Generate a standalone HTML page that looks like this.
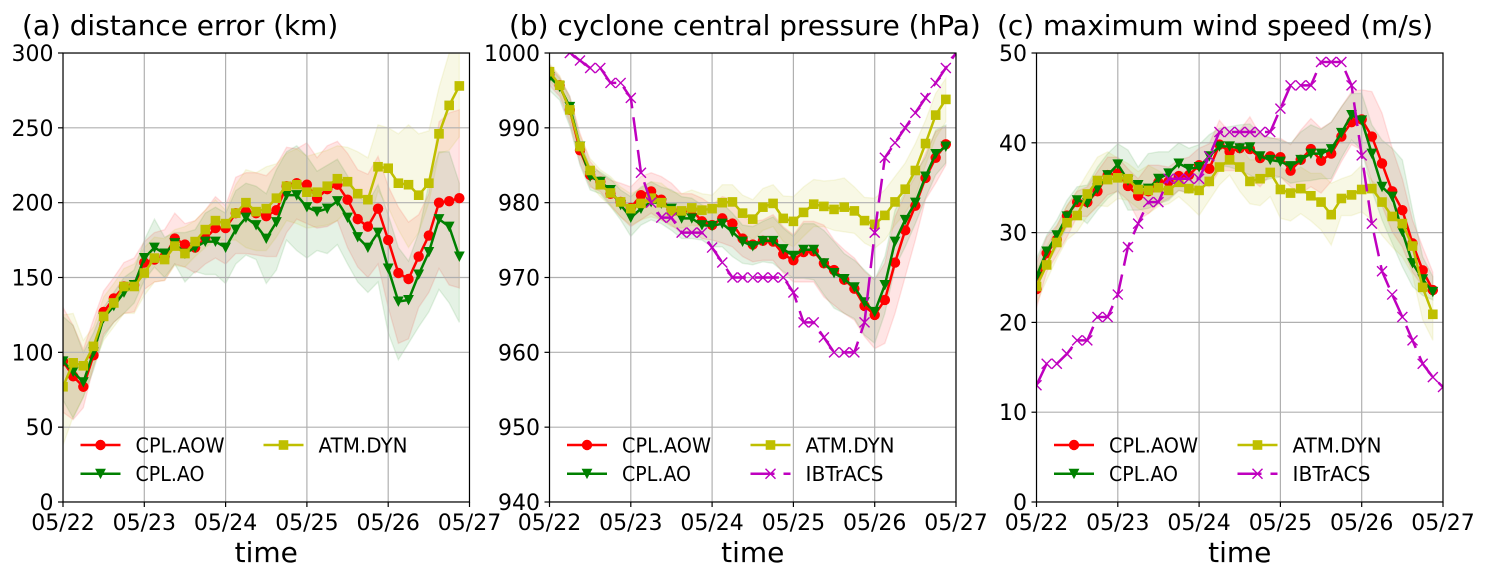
<!DOCTYPE html>
<html>
<head>
<meta charset="utf-8">
<title>Cyclone forecast comparison</title>
<style>
html,body{margin:0;padding:0;background:#fff;}
svg{display:block;font-family:"DejaVu Sans","Liberation Sans",sans-serif;}
</style>
</head>
<body>
<svg id="chart" width="1486" height="575" viewBox="0 0 1486 575" xmlns="http://www.w3.org/2000/svg"></svg>
<script>
const dayLabels = ['05/22','05/23','05/24','05/25','05/26','05/27'];
const stepsPerDay = 8;
const ticksA = [0,50,100,150,200,250,300];
const ticksB = [940,950,960,970,980,990,1000];
const ticksC = [0,10,20,30,40,50];

const aAow = [94,84,77,98,127,136,144,145,160,162,164,176,172,170,176,183,183,193,194,193,191,195,211,213,212,203,209,212,202,189,184,196,175,153,149,164,178,200,201,203];
const aAo = [94,87,80,100,123,131,140,145,163,170,166,173,166,170,174,174,170,182,190,185,176,187,205,205,197,194,196,201,190,177,170,180,156,134,135,152,167,189,184,164];
const aDyn = [77,93,91,104,124,133,144,144,153,163,162,171,166,174,182,188,186,193,200,194,196,203,211,212,207,207,211,216,214,206,202,224,223,213,212,205,213,246,265,278];
const aAowHi = [130,118,102,122,141,150,160,163,174,180,182,193,186,188,195,204,198,217,220,220,218,225,237,236,240,230,238,241,233,222,219,231,211,197,187,192,206,254,260,262];
const aAowLo = [60,55,63,90,112,120,126,127,142,147,148,159,157,153,159,163,159,166,166,165,164,164,180,189,186,183,184,188,170,157,150,159,130,106,109,130,140,156,145,143];
const aAoHi = [124,118,100,113,130,140,150,155,175,189,177,180,180,182,193,197,193,208,213,211,206,222,234,238,231,221,225,229,218,204,200,212,192,170,161,180,213,234,234,213];
const aAoLo = [68,56,70,88,110,120,126,133,148,157,150,159,147,154,152,152,146,159,165,162,146,155,175,168,163,168,166,172,159,147,140,147,113,95,106,117,127,142,133,120];
const aDynHi = [125,126,108,117,137,146,156,159,170,177,176,182,184,188,195,202,195,212,222,220,224,226,233,236,231,233,235,238,237,234,230,252,250,246,252,246,248,277,300,308];
const aDynLo = [38,57,70,91,108,117,126,126,138,147,148,158,157,164,170,175,175,175,170,168,168,177,188,186,183,184,185,188,195,188,183,208,197,182,170,180,200,233,235,244];

const bAow = [997.1,995.7,992.4,987,983.7,982.8,981.2,980.1,979.3,981,981.5,980.4,979.1,978.7,979.1,977.5,977,977.9,977.2,975.2,974.4,974.9,974.8,973.1,972.3,973.4,973.5,971.9,971,969.7,968.5,966.2,965,967,972,976.3,979.6,983.3,986,987.8];
const bAo = [996.8,995.5,992.8,987.5,983.5,982.8,981.7,979.7,978,979.2,980.1,979.9,979.2,977.9,977.9,977,976.9,977.2,976.1,974.8,974.2,974.9,974.9,973.8,972.9,973.7,973.7,971.9,970.6,969.8,968.7,966.7,965.4,969,974.8,977.7,980,983.5,986.5,987.5];
const bDyn = [997.5,995.7,992.4,987.5,984.3,982.4,981.3,980.1,979.2,979.9,980.6,980,978.9,978.9,979.3,979,979.2,980,980.1,978.6,977.8,979.4,979.9,977.9,977.5,978.7,979.8,979.5,979.1,979.4,978.9,977.6,977.1,978.3,980.1,981.8,984.3,987.9,991.7,993.8];
const bObs = [1003,1001,1000,999,998,998,996,996,994,984,980,978,978,976,976,976,974,972,970,970,970,970,970,970,968,964,964,962,960,960,960,964,976,986,988,990,992,994,996,998,1000];
const bAowHi = [998.4,996.8,994.2,989.3,985.5,983.9,983,982.6,982.1,983.5,984,983.5,982.6,981.2,981.2,980.6,979.7,980.8,980.4,978.1,977.5,977.7,978.4,976.8,975.7,977.5,977.5,977,975,973.7,972.6,970.8,969.7,971.9,978.1,981.2,983.5,986.6,989.5,990.2];
const bAowLo = [995.7,994.2,990.6,985.3,982.1,981.5,979.7,978.1,976.8,977.7,978.6,977.7,977,975.9,976.3,975.2,975,974.6,974.1,972.8,972.1,972.3,972.3,970.6,969.4,969.4,969.4,967.4,966.3,965.2,964.3,962.1,960.5,961.2,965.2,970.1,975,980.4,982.6,985];
const bAoHi = [998.2,996.6,994.2,988.4,984.8,984.1,983.2,981.7,980.8,982.1,982.8,982.1,981.7,980.8,980.6,979.7,979.2,979.9,978.6,977,976.8,977.5,978.1,976.6,975.5,977.2,977.2,976.3,974.8,973.2,972.3,971,969.7,972.8,979,981.5,983.9,986.1,989.7,990.4];
const bAoLo = [995,993.7,990.2,985,981.7,981.2,979.5,977.7,975.5,977,977.7,977.2,976.3,975.2,975.2,975,974.1,974.1,972.8,971.9,971.7,972.1,971.9,970.8,969.9,969.9,969.7,967.7,965.9,965.2,964.5,962.3,961.2,965.2,971.4,974.1,977.2,980.6,983.7,985.3];
const bDynHi = [998.6,997,993.7,989,985.9,984.4,983.5,982.1,981.2,981.9,982.8,982.6,981.5,981.2,981.7,981.2,981,982.4,982.4,981,980.4,981.9,982.4,980.9,980.8,982.1,983.1,982.9,983,983.3,982.1,980.7,980.6,981.7,983.5,985.3,987.9,991,994.6,996.6];
const bDynLo = [996.4,994.6,991,986.1,982.4,980.8,979.5,978.1,977,977.7,978.1,977.7,976.8,976.6,977,976.8,977.2,977.7,977.9,976.1,975,976.3,976.8,974.8,974.1,975.5,976.8,976.8,976.3,976.1,975.9,974.6,973.9,975,977,978.6,980.8,985,988.6,990.8];

const cAow = [23.7,27.7,29.2,31.9,33.4,33.4,34.6,36.4,36.6,35.2,34.1,34.6,35.6,35.7,36.3,36.4,37.5,37.1,39.8,39,39.4,39.3,38.3,38.5,38.4,36.9,38.1,39.3,38,38.8,40.7,42.3,42.6,40.7,37.7,34.6,32.5,28.8,25.8,23.6];
const cAo = [25.1,27.9,29.7,31.8,33.6,33.3,34.9,36.4,37.6,35.8,35.3,34.9,36,36.6,37.7,37.1,37.3,38.5,39.6,39.6,39.4,39.5,38.5,38.1,37.9,37.4,38.1,38.8,38.8,39.3,41.1,43.1,42.5,38.8,35.1,34,30.1,26.6,24.8,23.4];
const cDyn = [24,26.4,28.9,31.1,31.9,34.3,35.8,35.9,36.1,36,34.8,34.7,35,34.7,35.6,34.9,34.7,35.7,37.3,38.1,37.3,35.7,36,36.7,34.8,34.4,34.9,34.1,33.4,32,33.8,34.2,34.8,34.9,33.4,31.8,31,28.5,23.9,20.9];
const cObs = [13,15.4,15.4,16.5,18,18,20.6,20.6,23.1,28.4,31,33.4,33.4,36,36,36,36,38.5,41.2,41.2,41.2,41.2,41.2,41.2,43.8,46.4,46.4,46.4,49,49,49,46.4,38.6,31,25.7,23.1,20.6,18,15.4,13.9,12.8];
const cAowHi = [26.6,29.5,30.8,33,34.6,35.1,36.8,38.4,38.4,37.1,36,37.5,37.5,37.3,38.1,38.4,39.4,39.9,42.5,41.2,41.4,42.9,40.9,40.5,40.5,39.8,41.4,42.7,41.6,42.3,44,45.7,45.9,45.7,43.3,39.4,36,31.4,28.4,25.6];
const cAowLo = [21.6,25.6,27.5,29.5,31.8,31.8,32.9,34.2,34.6,33.6,31.4,32.1,33.2,33.8,34.7,34.4,35.5,35.1,36.9,36.9,36.9,36,35.1,36.4,36.2,35.1,34.4,35.1,34.4,35.7,37.9,39.8,39.2,35.7,33,30.1,28.4,25.6,24,23];
const cAoHi = [27.1,29.7,31.4,33.6,35.1,35.3,37.3,38.8,39.9,39.2,37.3,38.8,39,39,40,39.4,39.8,40.9,41.6,41.8,42,42.1,41,40.6,40.3,39.9,41.2,42,41.5,42.3,44,45.5,45.5,42,40.3,39.4,38.1,32.5,27.3,25.1];
const cAoLo = [23.6,26.4,28.4,30.7,31.9,31,32.5,33.8,34.7,32.5,32.5,32.7,33.2,33.6,34.7,34.4,34.7,35.7,37.5,37.3,36.9,36.4,35.7,36,36.2,35.5,35.7,35.8,36,36,38.3,40.3,39.2,34.7,31.4,28.8,26.2,24,23,22.5];
const cDynHi = [25.8,28.4,30.7,33,34.7,36.6,38.4,39,38.3,37.7,36.8,37.5,36.9,36.2,36.9,36.6,36.6,37.5,39.2,39.8,39.6,38.1,38.1,38.4,37.3,36.6,37.3,36.6,36.6,35.5,36,36.4,37.5,35.8,34.9,33,32.1,29.3,25.8,23.6];
const cDynLo = [22.1,24.7,27.1,29.2,30.1,31.8,33,32.9,33.8,33.6,32.7,32.1,32.9,33.2,34,33,31.9,33.6,35.3,36.4,34.6,33.2,33,34,31.6,31.3,32.1,31.3,30.3,28.6,31.9,31.9,32.3,31.4,29.7,28.4,27.3,25.3,20.3,18];

const NS = 'http://www.w3.org/2000/svg';
const root = document.getElementById('chart');

const STYLES = {
  aow: {label:'CPL.AOW', color:'#ff0000', marker:'circle', key:'aow', labelWidth: 89},
  ao:  {label:'CPL.AO',  color:'#008000', marker:'tri',    key:'ao',  labelWidth: 69},
  dyn: {label:'ATM.DYN', color:'#bfbf00', marker:'square', key:'dyn', labelWidth: 89},
  obs: {label:'IBTrACS', color:'#bf00bf', marker:'x',      key:'obs', labelWidth: 78}
};

function mk(parent, tag, attrs, text) {
  const el = document.createElementNS(NS, tag);
  for (const k in attrs) el.setAttribute(k, attrs[k]);
  if (text !== undefined) el.textContent = text;
  parent.appendChild(el);
  return el;
}

function drawMarker(parent, kind, cx, cy, color) {
  let el;
  if (kind === 'circle') {
    el = mk(parent, 'circle', {cx: cx, cy: cy, r: 5.2, fill: color});
  } else if (kind === 'square') {
    el = mk(parent, 'rect', {x: cx - 4.8, y: cy - 4.8, width: 9.6, height: 9.6, fill: color});
  } else if (kind === 'tri') {
    const p = (cx - 5.4) + ',' + (cy - 5) + ' ' + (cx + 5.4) + ',' + (cy - 5) + ' ' + cx + ',' + (cy + 5.4);
    el = mk(parent, 'polygon', {points: p, fill: color});
  } else {
    const d = 'M' + (cx - 5) + ' ' + (cy - 5) + 'L' + (cx + 5) + ' ' + (cy + 5) +
              'M' + (cx - 5) + ' ' + (cy + 5) + 'L' + (cx + 5) + ' ' + (cy - 5);
    el = mk(parent, 'path', {d: d, stroke: color, 'stroke-width': 1.4, fill: 'none'});
  }
  return el;
}

function drawPanel(p) {
  const g = mk(root, 'g', {});
  
  

  const xOf = function (step) { return p.left + (step / stepsPerDay) * (p.right - p.left) / (dayLabels.length - 1); };
  const yOf = function (v) { return p.bottom - (v - p.yMin) / (p.yMax - p.yMin) * (p.bottom - p.top); };

  const defs = mk(g, 'defs', {});
  const clip = mk(defs, 'clipPath', {id: 'clip-' + p.id});
  mk(clip, 'rect', {x: p.left, y: p.top, width: p.right - p.left, height: p.bottom - p.top});

  const title = mk(g, 'text', {x: p.titleX, y: 35, 'font-size': 27.9, fill: '#000'}, p.title);
  
  

  const plot = mk(g, 'g', {'clip-path': 'url(#clip-' + p.id + ')'});
  
  

  p.series.forEach(function (s) {
    if (!s.hi) return;
    let d = '';
    s.hi.forEach(function (v, i) { d += (i ? 'L' : 'M') + xOf(i).toFixed(2) + ' ' + yOf(v).toFixed(2); });
    for (let i = s.lo.length - 1; i >= 0; i--) d += 'L' + xOf(i).toFixed(2) + ' ' + yOf(s.lo[i]).toFixed(2);
    const band = mk(plot, 'path', {d: d + 'Z', fill: s.style.color, 'fill-opacity': 0.1, stroke: s.style.color, 'stroke-opacity': 0.1, 'stroke-width': 1.4});
    
    
  });

  dayLabels.forEach(function (lab, k) {
    const x = xOf(k * stepsPerDay);
    const gl = mk(plot, 'line', {x1: x, x2: x, y1: p.top, y2: p.bottom, stroke: '#b0b0b0', 'stroke-width': 1.2});
    
    
  });
  p.ticks.forEach(function (t) {
    const y = yOf(t);
    const gl = mk(plot, 'line', {x1: p.left, x2: p.right, y1: y, y2: y, stroke: '#b0b0b0', 'stroke-width': 1.2});
    
    
  });

  p.series.forEach(function (s) {
    const sg = mk(plot, 'g', {});
    
    
    const pts = s.values.map(function (v, i) { return xOf(i).toFixed(2) + ',' + yOf(v).toFixed(2); }).join(' ');
    const attrs = {points: pts, fill: 'none', stroke: s.style.color, 'stroke-width': 2.5};
    if (s.style.key === 'obs') attrs['stroke-dasharray'] = '24 9';
    const line = mk(sg, 'polyline', attrs);
    
    
    s.values.forEach(function (v, i) {
      const m = drawMarker(sg, s.style.marker, xOf(i), yOf(v), s.style.color);
      
      
    });
  });

  const frame = mk(g, 'rect', {x: p.left, y: p.top, width: p.right - p.left, height: p.bottom - p.top, fill: 'none', stroke: '#000', 'stroke-width': 1.2});
  
  

  dayLabels.forEach(function (lab, k) {
    const x = xOf(k * stepsPerDay);
    const tk = mk(g, 'line', {x1: x, x2: x, y1: p.bottom, y2: p.bottom + 5, stroke: '#000', 'stroke-width': 1.2});
    
    
    const tl = mk(g, 'text', {x: x, y: 530, 'font-size': 22, 'text-anchor': 'middle', fill: '#000'}, lab);
    
    
  });
  p.ticks.forEach(function (t) {
    const y = yOf(t);
    const tk = mk(g, 'line', {x1: p.left - 5, x2: p.left, y1: y, y2: y, stroke: '#000', 'stroke-width': 1.2});
    
    
    const tl = mk(g, 'text', {x: p.left - 9.5, y: y + 8, 'font-size': 22, 'text-anchor': 'end', fill: '#000'}, String(t));
    
    
  });

  const xt = mk(g, 'text', {x: (p.left + p.right) / 2, y: 562, 'font-size': 28, 'text-anchor': 'middle', fill: '#000'}, 'time');
  
  

  const legend = mk(g, 'g', {});
  
  
  p.series.forEach(function (s, i) {
    const col = i < 2 ? 0 : 1;
    const row = i % 2;
    const hx = p.left + 17.5 + col * p.legendColGap;
    const hy = 445 + row * 28.7;
    const entry = mk(legend, 'g', {});
    
    
    const attrs = {x1: hx, x2: hx + 40, y1: hy, y2: hy, stroke: s.style.color, 'stroke-width': 2.5};
    if (s.style.key === 'obs') attrs['stroke-dasharray'] = '24 9';
    mk(entry, 'line', attrs);
    drawMarker(entry, s.style.marker, hx + 20, hy, s.style.color);
    mk(entry, 'text', {x: hx + 55, y: hy + 7.3, 'font-size': 20, fill: '#000', textLength: s.style.labelWidth, lengthAdjust: 'spacingAndGlyphs'}, s.style.label);
  });
}

drawPanel({
  id: 'a', title: '(a) distance error (km)', titleX: 22,
  left: 63, right: 469.5, top: 53, bottom: 502, yMin: 0, yMax: 300, ticks: ticksA, legendColGap: 183,
  series: [
    {style: STYLES.aow, values: aAow, hi: aAowHi, lo: aAowLo},
    {style: STYLES.ao, values: aAo, hi: aAoHi, lo: aAoLo},
    {style: STYLES.dyn, values: aDyn, hi: aDynHi, lo: aDynLo}
  ]
});
drawPanel({
  id: 'b', title: '(b) cyclone central pressure (hPa)', titleX: 509,
  left: 549.5, right: 956, top: 53, bottom: 502, yMin: 940, yMax: 1000, ticks: ticksB, legendColGap: 183.5,
  series: [
    {style: STYLES.aow, values: bAow, hi: bAowHi, lo: bAowLo},
    {style: STYLES.ao, values: bAo, hi: bAoHi, lo: bAoLo},
    {style: STYLES.dyn, values: bDyn, hi: bDynHi, lo: bDynLo},
    {style: STYLES.obs, values: bObs}
  ]
});
drawPanel({
  id: 'c', title: '(c) maximum wind speed (m/s)', titleX: 997,
  left: 1036.5, right: 1443, top: 53, bottom: 502, yMin: 0, yMax: 50, ticks: ticksC, legendColGap: 183.5,
  series: [
    {style: STYLES.aow, values: cAow, hi: cAowHi, lo: cAowLo},
    {style: STYLES.ao, values: cAo, hi: cAoHi, lo: cAoLo},
    {style: STYLES.dyn, values: cDyn, hi: cDynHi, lo: cDynLo},
    {style: STYLES.obs, values: cObs}
  ]
});
</script>
</body>
</html>
